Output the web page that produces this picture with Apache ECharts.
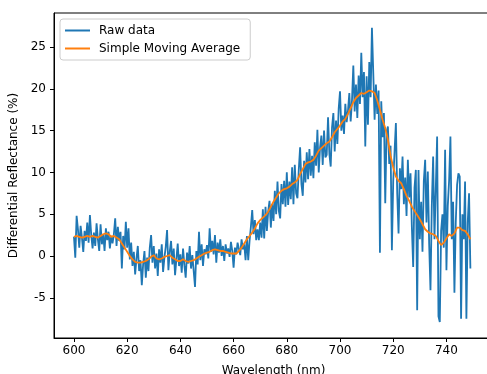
<!DOCTYPE html>
<html>
<head>
<meta charset="utf-8">
<title>Differential Reflectance</title>
<script src="https://cdn.jsdelivr.net/npm/echarts@6/dist/echarts.min.js"></script>
<style>
  html, body { margin: 0; padding: 0; background: #fff; }
  #chart { width: 487px; height: 374px; }
</style>
</head>
<body>
<div id="chart"></div>
<script>
// raw spectrum, one value every 0.5 nm starting at 600 nm (one row = 5 nm)
var rawStart = 600, rawStep = 0.5;
var rawValues = [
  2.3, -0.2, 4.8, 3.2, 1.0, 3.6, 2.2, 0.5, 3.0, 1.8,
  4.0, 1.6, 4.9, 2.5, 0.9, 2.8, 1.2, 3.9, 2.0, 0.6,
  3.8, 1.4, 2.6, 0.6, 3.3, 1.9, 2.9, 0.9, 2.4, 1.5,
  2.6, 4.5, 1.2, 3.5, 1.8, 2.9, -1.5, 2.4, 0.8, 4.1,
  1.0, 3.3, -0.4, 1.6, -1.2, 0.5, -2.2, -0.3, 1.2, -1.8,
  -0.5, -3.5, -1.0, 0.6, -2.6, -0.2, -1.8, 1.0, 2.5, -0.8,
  1.2, -1.5, 0.3, -2.4, 0.8, -0.8, 1.4, -1.9, -0.2, 1.1,
  3.1, -1.7, 0.5, 1.8, -1.0, 0.9, -2.3, -0.4, 1.5, -1.2,
  0.2, -2.0, 0.9, -1.1, -2.6, 0.4, -0.9, 1.2, -1.5, 0.1,
  -1.8, -3.7, 0.6, -1.0, 2.9, -0.5, 1.4, -1.2, 0.8, 0.2,
  1.3, -0.3, 3.3, 0.5, 1.8, 0.2, 2.5, -0.8, 1.6, 0.4,
  2.0, 0.0, 1.2, -0.6, 1.4, 0.3, 0.9, -0.1, 1.7, 0.6,
  -1.4, 1.0, 0.2, 1.6, 1.4, 0.1, 2.0, 0.8, 1.4, -0.5,
  2.4, -0.5, 1.8, 3.5, 5.5, 2.6, 4.3, 1.9, 3.2, 1.9,
  4.0, 2.2, 5.6, 2.1, 5.9, 3.0, 5.3, 6.6, 3.4, 6.2,
  4.2, 7.8, 5.0, 8.9, 5.4, 4.5, 8.6, 6.2, 9.0, 5.9,
  10.0, 6.1, 8.9, 6.8, 10.6, 6.2, 10.9, 7.5, 6.9, 10.3,
  13.0, 8.6, 7.2, 11.4, 8.8, 12.4, 9.2, 12.8, 9.6, 12.0,
  9.3, 13.6, 10.8, 15.1, 10.0, 13.0, 14.4, 10.9, 15.0, 11.8,
  12.1, 16.6, 12.2, 10.7, 15.4, 17.1, 12.5, 16.2, 13.4, 17.6,
  19.7, 15.0, 16.8, 14.6, 18.2, 16.0, 17.4, 19.5, 16.1, 18.6,
  22.8, 17.3, 20.5, 16.5, 21.6, 18.2, 24.3, 19.0, 22.0, 13.1,
  21.5, 15.7, 23.2, 19.0, 27.3, 21.9, 16.3, 20.5, 17.0, 19.8,
  0.4, 18.5, 14.2, 17.1, 6.3, 14.8, 15.5, 11.0, 13.2, 0.7,
  9.0, 12.5, 15.9, 7.5, 2.7, 10.5, 8.0, 11.9, 6.2, 9.4,
  4.8, 11.5, 7.0, 9.9, 3.5, -1.3, 8.2, 10.3, -6.5, 10.3,
  2.0, 6.5, 0.5, 9.0, 11.5, 4.0, 10.1, 1.5, -4.1, 6.0,
  11.9, 2.0, 8.0, 14.3, -7.2, -7.9, 3.0, 5.0, 1.0, 12.7,
  -1.7, 6.0, 9.0, 14.3, 2.0, 6.5, -4.4, 4.0, 8.5, 9.9,
  9.5, -7.5, 5.0, 2.0, 8.9, -7.5, 4.0, 7.5, -1.5
];

// moving average, every 1 nm from 600 nm
var smaStart = 600, smaStep = 1;
var smaValues = [
  2.3, 2.4, 2.3, 2.2, 2.3, 2.4, 2.3, 2.4, 2.3, 2.2,
  2.4, 2.6, 2.7, 2.6, 2.3, 2.4, 2.2, 2.0, 1.5, 1.0,
  0.5, 0.0, -0.4, -0.7, -0.8, -0.8, -0.7, -0.6, -0.4, -0.1,
  0.1, -0.3, -0.4, -0.3, -0.1, 0.0, 0.1, -0.2, -0.4, -0.6,
  -0.6, -0.4, -0.6, -0.7, -0.6, -0.5, -0.3, -0.1, 0.1, 0.3,
  0.4, 0.5, 0.7, 0.8, 0.7, 0.6, 0.6, 0.5, 0.4, 0.3,
  0.3, 0.3, 0.6, 1.0, 1.5, 2.0, 2.4, 2.8, 3.3, 3.9,
  4.3, 4.6, 4.9, 5.3, 5.9, 6.5, 7.0, 7.5, 7.8, 8.0,
  8.1, 8.3, 8.6, 8.8, 9.1, 9.8, 10.4, 11.0, 11.2, 11.3,
  11.5, 12.0, 12.6, 12.9, 13.2, 13.5, 13.7, 14.2, 14.8, 15.2,
  15.6, 16.1, 16.4, 17.0, 17.7, 18.4, 18.9, 19.2, 19.5, 19.4,
  19.6, 19.8, 19.7, 19.5, 18.6, 17.5, 16.3, 15.3, 13.9, 12.0,
  10.6, 9.5, 9.0, 8.7, 8.0, 7.2, 6.6, 5.9, 5.4, 4.9,
  4.4, 3.8, 3.2, 2.9, 2.7, 2.6, 2.4, 1.8, 1.3, 1.6,
  2.1, 2.6, 2.4, 2.7, 3.4, 3.4, 3.1, 3.0, 2.6, 2.0
];

var xTicks = [600, 620, 640, 660, 680, 700, 720, 740];
var yTicks = [-5, 0, 5, 10, 15, 20, 25];

var rawData = [], smaData = [];
for (var i = 0; i < rawValues.length; i++) {
  rawData.push([rawStart + i * rawStep, rawValues[i]]);
}
for (var k = 0; k < smaValues.length; k++) {
  smaData.push([smaStart + k * smaStep, smaValues[k]]);
}

var font = 'DejaVu Sans';
var myChart = echarts.init(document.getElementById('chart'), null, { renderer: 'canvas' });

myChart.setOption({
  animation: false,
  backgroundColor: '#fff',
  textStyle: { fontFamily: font, color: '#000' },
  grid: {
    left: 54, top: 13, width: 439, height: 325,
    outerBoundsMode: 'none', containLabel: false,
    show: true, borderColor: '#000', borderWidth: 1, backgroundColor: 'transparent'
  },
  legend: {
    orient: 'vertical',
    left: 60, top: 19,
    padding: [5, 10, 5, 5],
    itemGap: 5,
    itemWidth: 25, itemHeight: 2,
    icon: 'rect',
    backgroundColor: 'rgba(255,255,255,0.8)',
    borderColor: '#cccccc', borderWidth: 1, borderRadius: 3,
    textStyle: { fontFamily: font, fontSize: 12, color: '#000', lineHeight: 13, padding: [0, 0, 0, 4] },
    data: ['Raw data', 'Simple Moving Average']
  },
  xAxis: {
    type: 'value',
    min: 592.5, max: 757.5,
    name: 'Wavelength (nm)',
    nameLocation: 'middle', nameGap: 27,
    nameTextStyle: { fontFamily: font, fontSize: 12, color: '#000' },
    axisLine: { show: true, onZero: false, lineStyle: { color: '#000', width: 1 } },
    splitLine: { show: false },
    axisTick: { show: true, inside: false, length: 4, customValues: xTicks, lineStyle: { color: '#000' } },
    axisLabel: { customValues: xTicks, fontFamily: font, fontSize: 12, color: '#000', margin: 7 }
  },
  yAxis: {
    type: 'value',
    min: -9.81, max: 29.07,
    name: 'Differential Reflectance (%)',
    nameLocation: 'middle', nameGap: 27,
    nameTextStyle: { fontFamily: font, fontSize: 12, color: '#000' },
    axisLine: { show: true, onZero: false, lineStyle: { color: '#000', width: 1 } },
    splitLine: { show: false },
    axisTick: { show: true, inside: false, length: 4, customValues: yTicks, lineStyle: { color: '#000' } },
    axisLabel: { customValues: yTicks, fontFamily: font, fontSize: 12, color: '#000', margin: 8 }
  },
  series: [
    {
      name: 'Raw data', type: 'line', data: rawData,
      showSymbol: false, symbol: 'none',
      color: '#1f77b4',
      lineStyle: { width: 1.8, color: '#1f77b4' }
    },
    {
      name: 'Simple Moving Average', type: 'line', data: smaData,
      showSymbol: false, symbol: 'none',
      color: '#ff7f0e',
      lineStyle: { width: 1.8, color: '#ff7f0e' }
    }
  ]
});
</script>
</body>
</html>
